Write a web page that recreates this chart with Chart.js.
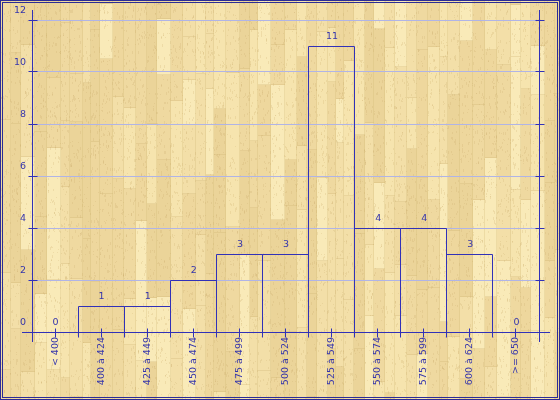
<!DOCTYPE html>
<html><head><meta charset="utf-8">
<script src="https://cdn.jsdelivr.net/npm/chart.js@4"></script>
<style>html,body{margin:0;padding:0;background:#f3dfa6;}canvas{display:block}</style>
</head><body>
<canvas id="c" width="560" height="400"></canvas>
<script>
const categories = ["< 400","400 à 424","425 à 449","450 à 474","475 à 499","500 à 524","525 à 549","550 à 574","575 à 599","600 à 624",">= 650"];
const counts = [0,1,1,2,3,3,11,4,4,3,0];
const yTickValues = [0,2,4,6,8,10,12];

const INK = '#3131b8';
const TEXT = '#3535ac';
const GRID = '#b0b4e6';
const FSIZE = 9.5;
const FONT = FSIZE + 'px "DejaVu Sans"';

// deterministic hash for wood texture decoration
function h(n){ n = (n ^ 61) ^ (n >>> 16); n = (n + (n << 3)) | 0; n = n ^ (n >>> 4); n = Math.imul(n, 0x27d4eb2d); n = n ^ (n >>> 15); return (n >>> 0) / 4294967296; }

const wood = {
  id: 'wood',
  beforeDraw(chart){
    const ctx = chart.ctx, W = chart.width, H = chart.height;
    ctx.save();
    ctx.fillStyle = '#f1dca2';
    ctx.fillRect(0,0,W,H);
    const shades = ['#f6e4ae','#efd9a0','#ebd499','#f3dfa8','#f9eab8','#eed79d'];
    let x = 0, col = 0;
    while (x < W) {
      const w = 8 + Math.floor(h(col*7+3)*7);
      let y = -Math.floor(h(col*13+1)*80), seg = 0;
      while (y < H) {
        const len = 40 + Math.floor(h(col*101+seg*17+5)*120);
        ctx.fillStyle = shades[Math.floor(h(col*31+seg*11+7)*shades.length)];
        ctx.fillRect(x, y, w, len);
        ctx.fillStyle = 'rgba(205,180,115,0.3)';
        ctx.fillRect(x, y+len-1, w, 1);
        y += len; seg++;
      }
      ctx.fillStyle = 'rgba(210,185,120,0.3)';
      ctx.fillRect(x+w-1, 0, 1, H);
      x += w; col++;
    }
    // fine grain speckle
    ctx.fillStyle = 'rgba(200,170,105,0.22)';
    for (let i = 0; i < 9000; i++) {
      const px = Math.floor(h(i*3+11)*W), py = Math.floor(h(i*5+29)*H);
      ctx.fillRect(px, py, 1, 1 + Math.floor(h(i*7+2)*3));
    }
    ctx.restore();
  }
};

const overlay = {
  id: 'overlay',
  afterDatasetsDraw(chart){
    const ctx = chart.ctx;
    const xs = chart.scales.x, ys = chart.scales.y;
    const a = chart.chartArea;
    const P = v => Math.floor(v) + 0.5;
    const y0 = P(ys.getPixelForValue(0));
    const meta = chart.getDatasetMeta(0);
    ctx.save();
    ctx.strokeStyle = INK;
    ctx.lineWidth = 1;
    meta.data.forEach((el, i) => {
      if (counts[i] === 0) return;
      const l = P(el.x - el.width/2), r = P(el.x + el.width/2), t = P(el.y);
      ctx.beginPath();
      ctx.moveTo(l, y0); ctx.lineTo(l, t); ctx.lineTo(r, t); ctx.lineTo(r, y0);
      ctx.stroke();
    });
    ctx.beginPath();
    ctx.moveTo(22, y0); ctx.lineTo(550, y0);
    const xl = P(a.left), xr = P(a.right);
    ctx.moveTo(xl, 10); ctx.lineTo(xl, 342);
    ctx.moveTo(xr, 10); ctx.lineTo(xr, 342);
    yTickValues.forEach(v => {
      const y = P(ys.getPixelForValue(v));
      ctx.moveTo(xl-4, y); ctx.lineTo(xl+5, y);
      ctx.moveTo(xr-4, y); ctx.lineTo(xr+5, y);
    });
    meta.data.forEach((el, i) => {
      const c = P(xs.getPixelForValue(i));
      ctx.moveTo(c, y0-4); ctx.lineTo(c, y0+5);
      if (i > 0) {
        const b = P(el.x - el.width/2);
        ctx.moveTo(b, y0); ctx.lineTo(b, y0+5);
      }
    });
    ctx.stroke();
    ctx.fillStyle = TEXT;
    ctx.font = FONT;
    ctx.textAlign = 'center';
    ctx.textBaseline = 'middle';
    meta.data.forEach((el, i) => {
      ctx.fillText(String(counts[i]), el.x + 0.5, el.y - 9);
    });
    ctx.strokeStyle = '#2c2c96';
    ctx.strokeRect(0.5, 0.5, chart.width-1, chart.height-1);
    ctx.strokeRect(2.5, 2.5, chart.width-5, chart.height-5);
    ctx.restore();
  }
};

new Chart(document.getElementById('c'), {
  type: 'bar',
  data: {
    labels: categories,
    datasets: [{ data: counts, backgroundColor: 'rgba(0,0,0,0)', borderWidth: 0, barPercentage: 1, categoryPercentage: 1 }]
  },
  options: {
    responsive: false,
    devicePixelRatio: 1,
    animation: false,
    layout: { padding: { left: 0, right: 21, top: 20, bottom: 0 } },
    plugins: { legend: { display: false }, tooltip: { enabled: false } },
    scales: {
      x: {
        grid: { display: false, drawTicks: false },
        border: { display: false },
        ticks: { color: TEXT, font: { family: 'DejaVu Sans', size: FSIZE }, minRotation: 90, maxRotation: 90, autoSkip: false, padding: 5 },
        afterFit(s){ s.height = 68; }
      },
      y: {
        min: 0, max: 12,
        grid: { color: GRID, drawTicks: false, lineWidth: 1 },
        border: { display: false },
        ticks: { stepSize: 2, color: TEXT, font: { family: 'DejaVu Sans', size: FSIZE }, padding: 6, labelOffset: -9 },
        afterFit(s){ s.width = 32; }
      }
    }
  },
  plugins: [wood, overlay]
});
</script>
</body></html>
